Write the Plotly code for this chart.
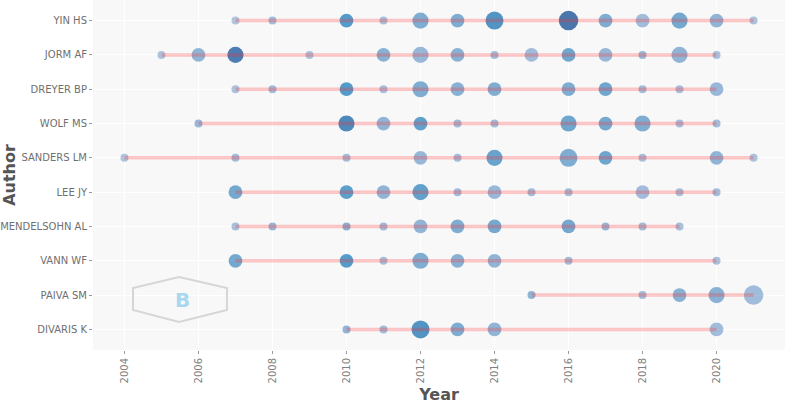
import numpy as np
import plotly.graph_objects as go

authors = ["YIN HS", "JORM AF", "DREYER BP", "WOLF MS", "SANDERS LM",
           "LEE JY", "MENDELSOHN AL", "VANN WF", "PAIVA SM", "DIVARIS K"]

# publication years per author
years = [
    [2007, 2008, 2010, 2011, 2012, 2013, 2014, 2016, 2017, 2018, 2019, 2020, 2021],
    [2005, 2006, 2007, 2009, 2011, 2012, 2013, 2014, 2015, 2016, 2017, 2018, 2019, 2020],
    [2007, 2008, 2010, 2011, 2012, 2013, 2014, 2016, 2017, 2018, 2019, 2020],
    [2006, 2010, 2011, 2012, 2013, 2014, 2016, 2017, 2018, 2019, 2020],
    [2004, 2007, 2010, 2012, 2013, 2014, 2016, 2017, 2018, 2020, 2021],
    [2007, 2010, 2011, 2012, 2013, 2014, 2015, 2016, 2018, 2019, 2020],
    [2007, 2008, 2010, 2011, 2012, 2013, 2014, 2016, 2017, 2018, 2019],
    [2007, 2010, 2011, 2012, 2013, 2014, 2016, 2020],
    [2015, 2018, 2019, 2020, 2021],
    [2010, 2011, 2012, 2013, 2014, 2020],
]

# number of articles per year
articles = [
    [1, 1, 2, 1, 3, 2, 4, 5, 2, 2, 3, 2, 1],
    [1, 2, 3, 1, 2, 3, 2, 1, 2, 2, 2, 1, 3, 1],
    [1, 1, 2, 1, 3, 2, 2, 2, 2, 1, 1, 2],
    [1, 3, 2, 2, 1, 1, 3, 2, 3, 1, 1],
    [1, 1, 1, 2, 1, 3, 4, 2, 1, 2, 1],
    [2, 2, 2, 3, 1, 2, 1, 1, 2, 1, 1],
    [1, 1, 1, 1, 2, 2, 2, 2, 1, 1, 1],
    [2, 2, 1, 3, 2, 2, 1, 1],
    [1, 1, 2, 3, 5],
    [1, 1, 4, 2, 2, 2],
]

# total citations per year (relative)
tc_per_year = [
    [0.15, 0.3, 0.8, 0.25, 0.5, 0.5, 0.85, 1.0, 0.5, 0.3, 0.55, 0.4, 0.2],
    [0.2, 0.4, 0.97, 0.2, 0.45, 0.35, 0.45, 0.3, 0.3, 0.6, 0.35, 0.35, 0.4, 0.25],
    [0.2, 0.3, 0.8, 0.25, 0.5, 0.45, 0.5, 0.5, 0.6, 0.3, 0.25, 0.35],
    [0.35, 0.9, 0.4, 0.7, 0.3, 0.3, 0.6, 0.55, 0.5, 0.25, 0.3],
    [0.2, 0.3, 0.3, 0.35, 0.3, 0.65, 0.5, 0.6, 0.25, 0.4, 0.2],
    [0.55, 0.75, 0.4, 0.7, 0.3, 0.35, 0.3, 0.3, 0.3, 0.25, 0.3],
    [0.25, 0.35, 0.45, 0.3, 0.4, 0.5, 0.55, 0.55, 0.35, 0.3, 0.25],
    [0.55, 0.8, 0.25, 0.5, 0.45, 0.4, 0.3, 0.25],
    [0.4, 0.3, 0.45, 0.45, 0.3],
    [0.4, 0.3, 0.85, 0.5, 0.4, 0.3],
]

xs, ys, freq, tc = [], [], [], []
for a, yr, n, c in zip(authors, years, articles, tc_per_year):
    xs += yr
    ys += [a] * len(yr)
    freq += n
    tc += c
freq = np.array(freq)
sizes = 8 + 11.5 * np.sqrt((freq - 1) / 4)

# timeline per author
lx, ly = [], []
for a, yr in zip(authors, years):
    lx += [min(yr), max(yr), None]
    ly += [a, a, None]

fig = go.Figure()
fig.add_trace(go.Scatter(
    x=xs, y=ys, mode="markers",
    marker=dict(
        size=sizes, color=tc, cmin=0, cmax=1,
        colorscale=[[0.0, "rgba(70,110,170,0.45)"],
                    [0.3, "rgba(45,110,180,0.62)"],
                    [0.55, "rgba(15,105,175,0.8)"],
                    [0.8, "rgba(0,110,178,0.95)"],
                    [1.0, "rgba(0,62,140,1)"]],
        line=dict(width=0), showscale=False),
    showlegend=False))
fig.add_trace(go.Scatter(
    x=lx, y=ly, mode="lines",
    line=dict(color="rgba(255,40,40,0.25)", width=3.5),
    showlegend=False, hoverinfo="skip"))

# bibliometrix logo
hexagon = "M 0.1243,0.2086 L 0.1936,0.177 L 0.1936,0.1143 L 0.1243,0.08 L 0.0578,0.1143 L 0.0578,0.177 Z"
fig.add_shape(type="path", path=hexagon, xref="paper", yref="paper",
              line=dict(color="#d6d6d6", width=2), fillcolor="rgba(0,0,0,0)")
fig.add_annotation(x=0.130, y=0.143, xref="paper", yref="paper", text="<b>B</b>",
                   xanchor="center", yanchor="middle",
                   showarrow=False, font=dict(family="DejaVu Sans", size=20, color="#a8d8ef"))

fig.update_layout(
    width=787, height=404,
    margin=dict(l=93, r=2, t=0, b=54),
    plot_bgcolor="#f8f8f8", paper_bgcolor="white",
    font=dict(family="DejaVu Sans", color="#777777"),
)
fig.update_xaxes(
    range=[2003.15, 2021.85], tickmode="linear", tick0=2004, dtick=2,
    tickangle=-90, ticks="outside", ticklen=3, tickcolor="#999999",
    tickfont=dict(size=10, color="#808080"), automargin=False,
    gridcolor="white", zeroline=False, showline=False,
    title=dict(text="<b>Year</b>", font=dict(size=16, color="#555555"), standoff=11),
)
fig.update_yaxes(
    categoryorder="array", categoryarray=authors, range=[9.6, -0.6],
    ticks="outside", ticklen=3, tickcolor="#999999",
    tickfont=dict(size=10, color="#707070"), automargin=False,
    gridcolor="white", zeroline=False, showline=False,
    title=dict(text="<b>Author</b>", font=dict(size=16, color="#555555"), standoff=2),
)

fig.write_html("out.html", config={"displayModeBar": False},
               post_script="document.body.style.margin='0px';")
